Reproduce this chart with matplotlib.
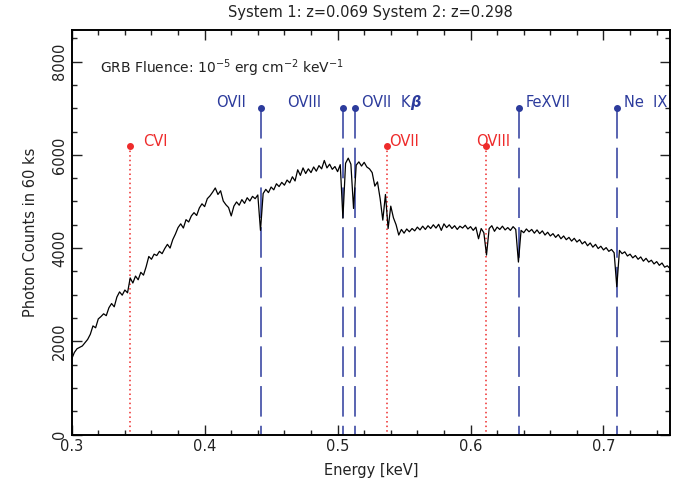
import numpy as np
import matplotlib
matplotlib.use("Agg")
import matplotlib.pyplot as plt
from matplotlib.ticker import AutoMinorLocator, MultipleLocator

# ---------------- data ----------------
e_start = 0.300
e_step = 0.002
counts = [
    1620, 1760, 1840, 1870, 1900, 1970, 2040, 2150, 2330, 2290,
    2480, 2530, 2590, 2550, 2720, 2810, 2740, 2950, 3060, 2990,
    3100, 3040, 3360, 3250, 3400, 3320, 3480, 3420, 3600, 3820,
    3760, 3870, 3840, 3930, 3880, 3990, 4080, 4000, 4180, 4300,
    4440, 4520, 4430, 4610, 4560, 4690, 4760, 4700, 4860, 4950,
    4890, 5060, 5120, 5200, 5290, 5150, 5230, 5010, 4930, 4870,
    4690, 4900, 4990, 4920, 5040, 4960, 5080, 5010, 5110, 5060,
    5140, 4380, 5170, 5260, 5190, 5310, 5250, 5380, 5320, 5410,
    5350, 5460, 5400, 5530, 5440, 5680, 5560, 5720, 5600, 5700,
    5620, 5740, 5650, 5770, 5700, 5880, 5720, 5800, 5690, 5750,
    5640, 5790, 4640, 5820, 5930, 5800, 4850, 5780, 5850, 5760,
    5840, 5740, 5700, 5620, 5330, 5420, 5060, 4600, 5150, 4420,
    4900, 4650, 4500, 4280, 4400, 4320, 4410, 4350, 4420, 4370,
    4450, 4390, 4470, 4400, 4480, 4420, 4500, 4430, 4510, 4380,
    4520, 4440, 4500, 4420, 4480, 4400, 4470, 4430, 4490, 4410,
    4460, 4380, 4450, 4200, 4420, 4330, 3850, 4420, 4480, 4360,
    4450, 4400, 4470, 4390, 4440, 4380, 4460, 4400, 3700, 4380,
    4330, 4410, 4350, 4400, 4320, 4390, 4310, 4370, 4280, 4340,
    4260, 4310, 4230, 4290, 4200, 4260, 4180, 4230, 4150, 4210,
    4130, 4180, 4090, 4140, 4050, 4110, 4020, 4080, 3990, 4040,
    3960, 4010, 3930, 3970, 3900, 3170, 3950, 3880, 3920, 3830,
    3870, 3790, 3840, 3760, 3810, 3720, 3780, 3700, 3740, 3660,
    3710, 3630, 3680, 3590, 3620, 3560,
]
energy = e_start + e_step * np.arange(len(counts))

# System 2 (z=0.298) lines, blue
sys2_names = ["OVII", "OVIII", "OVII  K$\\boldsymbol{\\beta}$", "FeXVII", "Ne  IX"]
sys2_energy = [0.4422, 0.5038, 0.5130, 0.6364, 0.7103]
sys2_level = 7000
# System 1 (z=0.069) lines, red
sys1_names = ["CVI", "OVII", "OVIII"]
sys1_energy = [0.3442, 0.5369, 0.6118]
sys1_level = 6200

title = "System 1: z=0.069 System 2: z=0.298"
note = "GRB Fluence: 10$^{-5}$ erg cm$^{-2}$ keV$^{-1}$"

# ---------------- plot ----------------
blue = "#2c3b9c"
red = "#ee2b2b"
txt = "#222222"

plt.rcParams["font.family"] = ["DejaVu Sans"]
plt.rcParams["mathtext.fontset"] = "dejavusans"

fig = plt.figure(figsize=(6.88, 4.87), dpi=100)
ax = fig.add_axes([0.1042, 0.1078, 0.8696, 0.8316])

ax.plot(energy, counts, color="black", lw=0.9, zorder=3)

# blue system lines
for name, e in zip(sys2_names, sys2_energy):
    ax.plot([e, e], [sys2_level, 0], color=blue, lw=1.1,
            linestyle=(0, (20, 6)), zorder=2)
    ax.plot([e], [sys2_level], "o", color=blue, ms=4, zorder=4)
offsets2 = [(-0.0109, "right"), (-0.0162, "right"), (0.0046, "left"),
            (0.0051, "left"), (0.0049, "left")]
for name, e, (dx, ha) in zip(sys2_names, sys2_energy, offsets2):
    ax.text(e + dx, 7120, name, color=blue, ha=ha, va="center",
            fontsize=10.5)

# red system lines
for name, e in zip(sys1_names, sys1_energy):
    ax.plot([e, e], [sys1_level, 0], color=red, lw=1.1,
            linestyle=(0, (1, 2)), zorder=2)
    ax.plot([e], [sys1_level], "o", color=red, ms=4, zorder=4)
offsets1 = [0.0093, 0.0015, -0.0079]
for name, e, dx in zip(sys1_names, sys1_energy, offsets1):
    ax.text(e + dx, 6290, name, color=red, ha="left", va="center",
            fontsize=10.5)

ax.text(0.3212, 7850, note, color=txt, ha="left", va="center", fontsize=10)

ax.set_xlim(0.3, 0.75)
ax.set_ylim(0, 8690)
ax.xaxis.set_major_locator(MultipleLocator(0.1))
ax.xaxis.set_minor_locator(AutoMinorLocator(5))
ax.yaxis.set_major_locator(MultipleLocator(2000))
ax.yaxis.set_minor_locator(AutoMinorLocator(4))
ax.tick_params(which="both", direction="in", top=True, right=True,
               colors=txt, labelsize=10.5)
ax.tick_params(which="major", length=7, width=1.0)
ax.tick_params(which="minor", length=3.5, width=1.0)
ax.set_xticklabels([f"{v:.1f}" for v in ax.get_xticks()])
for lab in ax.get_yticklabels():
    lab.set_rotation(90)
    lab.set_va("center")
for s in ax.spines.values():
    s.set_linewidth(1.4)
    s.set_color("black")

ax.set_xlabel("Energy [keV]", fontsize=10.5, color=txt, labelpad=6)
ax.set_ylabel("Photon Counts in 60 ks", fontsize=10.5, color=txt, labelpad=10)
ax.set_title(title, fontsize=10.5, color=txt, pad=9)

fig.savefig("out.png", dpi=100)
